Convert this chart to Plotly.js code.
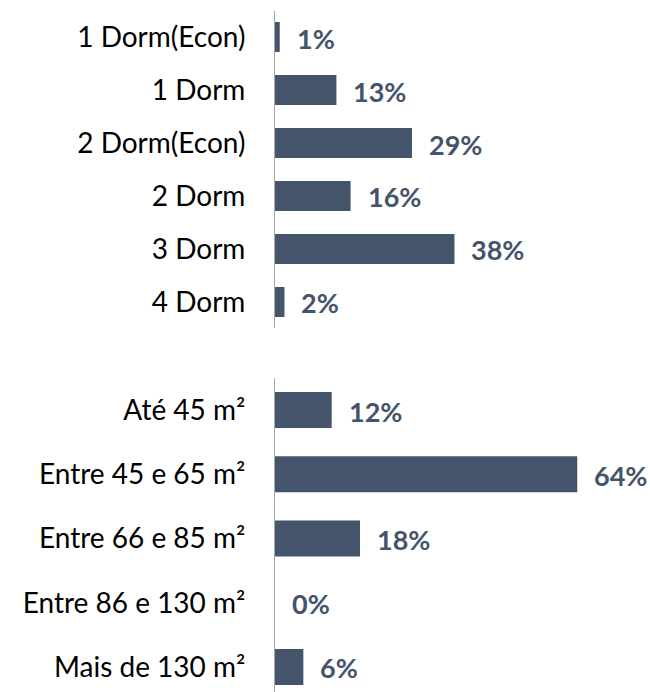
<!DOCTYPE html>
<html>
<head>
<meta charset="utf-8">
<script src="https://cdn.plot.ly/plotly-3.0.1.min.js"></script>
<style>
  html, body { margin: 0; padding: 0; background: #fff; }
  #chart { width: 650px; height: 692px; }
</style>
</head>
<body>
<div id="chart"></div>
<script>
'use strict';

// tipologia (quartos)
const dormCats = ['1 Dorm(Econ)', '1 Dorm', '2 Dorm(Econ)', '2 Dorm', '3 Dorm', '4 Dorm'];
const dormVals = [1, 13, 29, 16, 38, 2];

// metragem
const areaCats = ['Até 45 m²', 'Entre 45 e 65 m²', 'Entre 66 e 85 m²', 'Entre 86 e 130 m²', 'Mais de 130 m²'];
const areaVals = [12, 64, 18, 0, 6];

const barColor = '#44546a';
const fontFam = 'Lato, "Open Sans", sans-serif';

const trace1 = {
  type: 'bar',
  orientation: 'h',
  x: dormVals,
  y: dormCats,
  xaxis: 'x',
  yaxis: 'y',
  width: 0.57,
  marker: { color: barColor },
  hoverinfo: 'none'
};

const trace2 = {
  type: 'bar',
  orientation: 'h',
  x: areaVals,
  y: areaCats,
  xaxis: 'x2',
  yaxis: 'y2',
  width: 0.56,
  marker: { color: barColor },
  hoverinfo: 'none'
};

const annotations = [];
function addLabels(vals, cats, xr, yr) {
  for (let i = 0; i < vals.length; i += 1) {
    annotations.push({
      x: vals[i],
      y: cats[i],
      xref: xr,
      yref: yr,
      text: '<b>' + vals[i] + '%</b>',
      showarrow: false,
      xanchor: 'left',
      xshift: 15,
      yshift: -1,
      font: { family: fontFam, size: 27, color: barColor }
    });
  }
}
addLabels(dormVals, dormCats, 'x', 'y');
addLabels(areaVals, areaCats, 'x2', 'y2');

const xRange = [0, 79.4];
const xDomain = [0.4231, 1];

function yAxis(domain, range, anchor) {
  return {
    domain: domain,
    anchor: anchor,
    type: 'category',
    range: range,
    autorange: false,
    showline: true,
    linecolor: '#a6a6a6',
    linewidth: 1,
    showgrid: false,
    zeroline: false,
    ticks: '',
    ticklabelstandoff: 23,
    tickfont: { family: fontFam, size: 28, color: '#000' }
  };
}

function xAxis(anchor) {
  return {
    domain: xDomain,
    anchor: anchor,
    range: xRange,
    visible: false,
    fixedrange: true
  };
}

const layout = {
  width: 650,
  height: 692,
  margin: { t: 0, l: 0, r: 0, b: 0 },
  paper_bgcolor: '#fff',
  plot_bgcolor: '#fff',
  showlegend: false,
  xaxis: xAxis('y'),
  xaxis2: xAxis('y2'),
  yaxis: yAxis([0.5253, 0.9848], [5.5, -0.5], 'x'),
  yaxis2: yAxis([0, 0.4538], [4.39, -0.5], 'x2'),
  annotations: annotations
};

Plotly.newPlot('chart', [trace1, trace2], layout, { staticPlot: true });
</script>
</body>
</html>
